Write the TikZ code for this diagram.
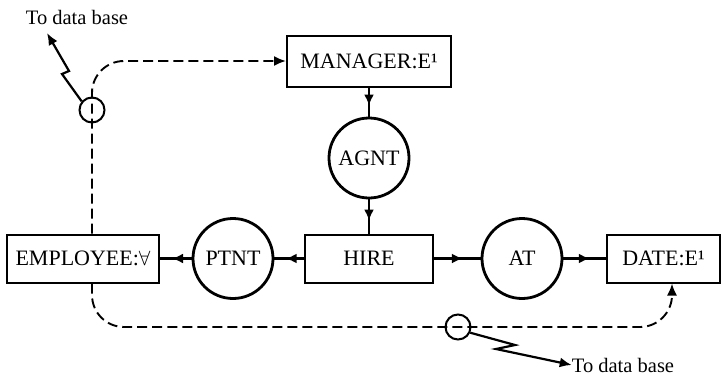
\documentclass[tikz,border=0pt]{standalone}
\usepackage{fontspec}
\setmainfont{Liberation Serif}
\usetikzlibrary{arrows.meta,decorations.markings}
\begin{document}
\begin{tikzpicture}[x=1pt,y=-1pt,
  every node/.style={font=\fontsize{22}{26}\selectfont, inner sep=0pt},
  concept/.style={draw, line width=2pt, rectangle, minimum height=48pt},
  relation/.style={draw, line width=2.8pt, circle, minimum size=80pt},
  link/.style={line width=2.4pt},
  midarrow/.style={postaction={decorate}, decoration={markings,
      mark=at position #1 with {\arrow{Latex[length=11pt,width=10pt]}}}},
  dbl/.style={line width=1.9pt, dash pattern=on 10pt off 5pt},
  dbcircle/.style={draw, circle, line width=2pt, minimum size=25pt},
  zig/.style={line width=2.2pt, -{Latex[length=12pt,width=10pt]}},
  lbl/.style={font=\fontsize{20.5}{24}\selectfont}
]
\useasboundingbox (0,0) rectangle (725,375);

\node[concept, minimum width=164pt, minimum height=51pt] (mgr) at (369,61) {MANAGER:E¹};
\node[relation] (agnt) at (369,158) {AGNT};
\node[concept, minimum width=128pt] (hire) at (369,258.5) {HIRE};
\node[relation] (ptnt) at (233,258.5) {PTNT};
\node[concept, minimum width=152pt] (emp) at (83,258.5) {EMPLOYEE:$\forall$};
\node[relation] (at) at (522,258.5) {AT};
\node[concept, minimum width=113pt] (date) at (663.5,258.5) {DATE:E¹};

\draw[link, midarrow=0.62] (mgr) -- (agnt);
\draw[link, midarrow=0.62] (agnt) -- (hire);
\draw[link, midarrow=0.62] (hire) -- (ptnt);
\draw[link, midarrow=0.62] (ptnt) -- (emp);
\draw[link, midarrow=0.62] (hire) -- (at);
\draw[link, midarrow=0.62] (at) -- (date);

\node[dbcircle] (c1) at (92,110) {};
\node[dbcircle] (c2) at (458,327) {};

\draw[dbl, rounded corners=32pt, -{Latex[length=12pt,width=10pt]}]
  (emp.north -| c1) -- (c1.center |- mgr.west) -- (mgr.west);
\draw[dbl, rounded corners=32pt, -{Latex[length=12pt,width=10pt]}]
  (emp.south -| c1) -- (c1.center |- c2.center) -- ([xshift=8.5pt]date.south |- c2.center) -- ([xshift=8.5pt]date.south);

\node[lbl] (l1) at (77,17) {To data base};
\node[lbl] (l2) at (623,365) {To data base};

\draw[zig] (c1.140) -- (62,74) -- (69,71) -- (47,33);
\draw[zig] (c2.-25) -- (515,345) -- (496,349) -- (l2.west);
\end{tikzpicture}
\end{document}
